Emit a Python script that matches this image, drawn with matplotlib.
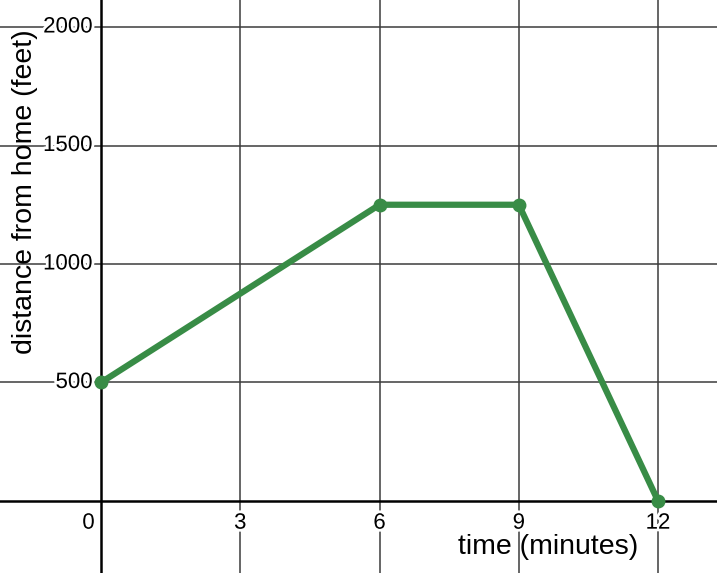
import matplotlib.pyplot as plt
import matplotlib.patheffects as pe

# trip: distance from home over time
time_min = [0, 6, 9, 12]
distance_ft = [500, 1250, 1250, 0]

x_ticks = [3, 6, 9, 12]
y_ticks = [500, 1000, 1500, 2000]

plt.rcParams['font.family'] = ['Liberation Sans', 'DejaVu Sans']

fig = plt.figure(figsize=(7.17, 5.73), dpi=100)
ax = fig.add_axes([0, 0, 1, 1])
ax.set_xlim(-2.176, 13.27)
ax.set_ylim(-304, 2114)
ax.axis('off')

grid_kw = dict(color='#3c3c3c', linewidth=1.1, zorder=1)
for xv in x_ticks:
    ax.axvline(xv, **grid_kw)
for yv in y_ticks:
    ax.axhline(yv, **grid_kw)

# main axes
ax.axhline(0, color='black', linewidth=1.8, zorder=2)
ax.axvline(0, color='black', linewidth=1.8, zorder=2)

halo = [pe.withStroke(linewidth=4, foreground='white')]

for xv in x_ticks:
    ax.annotate(str(xv), (xv, 0), xytext=(0, -16), textcoords='offset points',
                ha='center', va='center', fontsize=16, path_effects=halo, zorder=3)
for yv in y_ticks:
    ax.annotate(str(yv), (0, yv), xytext=(-6, 0), textcoords='offset points',
                ha='right', va='center', fontsize=16, path_effects=halo, zorder=3)
ax.annotate('0', (0, 0), xytext=(-9, -16), textcoords='offset points',
            ha='center', va='center', fontsize=16, path_effects=halo, zorder=3)

ax.plot(time_min, distance_ft, color='#388c46', linewidth=4.5, marker='o',
        markersize=9, solid_capstyle='round', zorder=5)

# axis titles sit on top of the grid with no halo
fig.text(0.765, 0.045, 'time (minutes)', ha='center', va='center', fontsize=20.5,
         zorder=4)
fig.text(0.035, 0.665, 'distance from home (feet)', ha='center', va='center',
         rotation=90, fontsize=20.5, zorder=4)

plt.savefig('out.png', dpi=100)
